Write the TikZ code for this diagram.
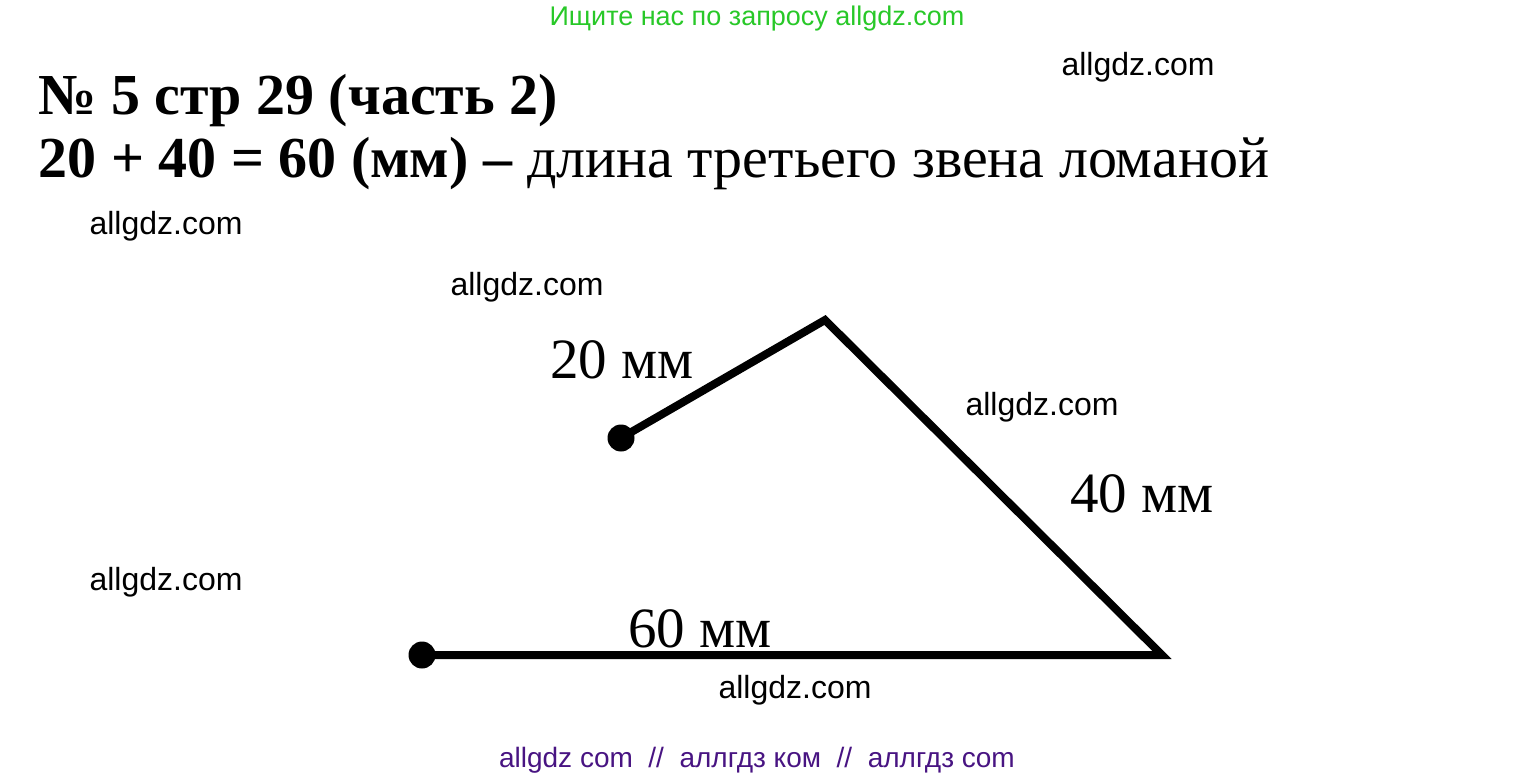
\documentclass[tikz,border=0pt]{standalone}
\usepackage{fontspec}
\setmainfont{Liberation Serif}
\newfontfamily\wmfont{Liberation Sans}
\definecolor{hintgreen}{RGB}{40,200,40}
\definecolor{footviolet}{RGB}{72,20,130}
\tikzset{
  wm/.style={font=\wmfont\fontsize{32}{38}\selectfont},
  headline/.style={anchor=base west,font=\fontsize{58}{70}\selectfont},
  seglabel/.style={anchor=base,font=\fontsize{57}{68}\selectfont},
  link/.style={line width=8pt,line join=miter},
  endpt/.style={circle,fill,inner sep=0pt,minimum size=27pt}
}
\begin{document}
\begin{tikzpicture}[x=1pt,y=-1pt]
  \useasboundingbox (0,0) rectangle (1515,778);
  % heading
  \node[anchor=base,text=hintgreen,font=\wmfont\fontsize{27}{32}\selectfont] (hint) at (757,26) {Ищите нас по запросу allgdz.com};
  \node[headline] (task) at (35,115) {\textbf{№ 5 стр 29 (часть 2)}};
  \node[headline] (sum) at (35,178) {\textbf{20 + 40 = 60 (мм) –} длина третьего звена ломаной};
  % broken line
  \node[endpt] (start) at (621,438) {};
  \coordinate (top) at (825,320);
  \coordinate (corner) at (1162,655);
  \node[endpt] (finish) at (422,655) {};
  \draw[link] (start.center) -- (top) -- (corner) -- (finish.center);
  \node[seglabel] (l20) at (622,378) {20 мм};
  \node[seglabel] (l40) at (1142,512) {40 мм};
  \node[seglabel] (l60) at (700,647) {60 мм};
  % watermarks
  \node[wm] (w1) at (1138,67) {allgdz.com};
  \node[wm] (w2) at (166,226) {allgdz.com};
  \node[wm] (w3) at (527,287) {allgdz.com};
  \node[wm] (w4) at (1042,407) {allgdz.com};
  \node[wm] (w5) at (166,582) {allgdz.com};
  \node[wm] (w6) at (795,690) {allgdz.com};
  \node[anchor=base,text=footviolet,font=\wmfont\fontsize{28}{33}\selectfont] (foot) at (757,767) {allgdz com\ \ //\ \ аллгдз ком\ \ //\ \ аллгдз com};
\end{tikzpicture}
\end{document}
